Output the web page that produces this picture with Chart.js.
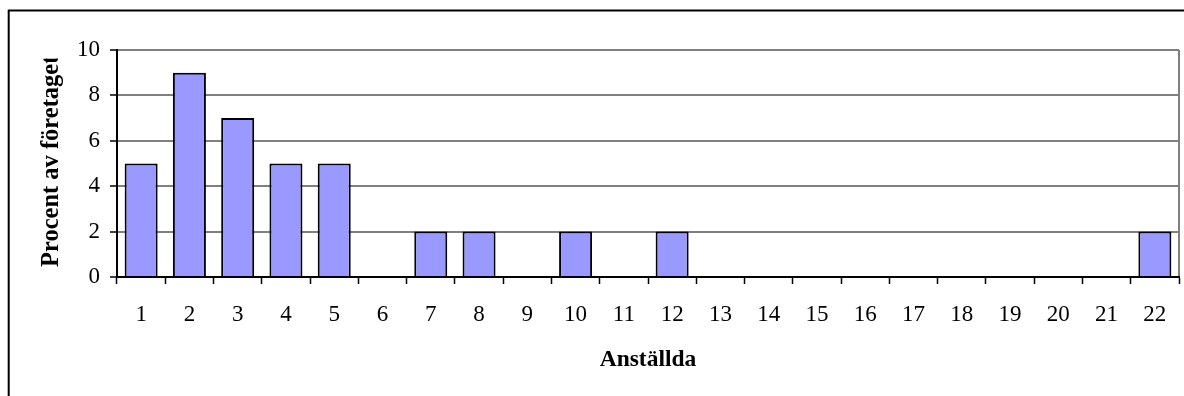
<!DOCTYPE html>
<html>
<head>
<meta charset="utf-8">
<script src="https://cdn.jsdelivr.net/npm/chart.js@4/dist/chart.umd.min.js"></script>
<style>
  html, body { margin: 0; padding: 0; background: #fff; }
  canvas { display: block; }
</style>
</head>
<body>
<canvas id="chart" width="1184" height="396"></canvas>
<script>
// Number of employees per company (category axis)
const categories = ['1','2','3','4','5','6','7','8','9','10','11','12','13','14','15','16','17','18','19','20','21','22'];
// Share of companies, in percent
const percent = [5, 9, 7, 5, 5, 0, 2, 2, 0, 2, 0, 2, 0, 0, 0, 0, 0, 0, 0, 0, 0, 2];
// Value axis range and step
const yMin = 0;
const yMax = 10;
const yStep = 2;

const xTitle = 'Anställda';
const yTitle = 'Procent av företaget';

const serif = 'Liberation Serif, Times New Roman, serif';

// Outer frame, plot-area right edge and the two axis titles
const decorations = {
  id: 'decorations',
  beforeDraw(chart) {
    const ctx = chart.ctx;
    ctx.save();
    ctx.fillStyle = '#fff';
    ctx.fillRect(0, 0, chart.width, chart.height);
    ctx.strokeStyle = '#000';
    ctx.lineWidth = 2;
    ctx.beginPath();
    ctx.moveTo(8.7, chart.height + 5);
    ctx.lineTo(8.7, 10.5);
    ctx.lineTo(chart.width + 5, 10.5);
    ctx.stroke();
    ctx.restore();
  },
  beforeDatasetsDraw(chart) {
    const ctx = chart.ctx;
    const a = chart.chartArea;
    ctx.save();
    ctx.strokeStyle = '#808080';
    ctx.lineWidth = 2;
    ctx.beginPath();
    ctx.moveTo(a.right, a.top);
    ctx.lineTo(a.right, a.bottom);
    ctx.stroke();
    ctx.restore();
  },
  afterDraw(chart) {
    const ctx = chart.ctx;
    const a = chart.chartArea;
    ctx.save();
    ctx.fillStyle = '#000';
    // horizontal axis title
    ctx.font = 'bold 23.5px ' + serif;
    ctx.textAlign = 'center';
    ctx.textBaseline = 'alphabetic';
    ctx.fillText(xTitle, (a.left + a.right) / 2, 366);
    // vertical axis title, cut off at the top edge of its box
    ctx.beginPath();
    ctx.rect(0, 58.5, a.left, chart.height);
    ctx.clip();
    ctx.translate(58, 267);
    ctx.rotate(-Math.PI / 2);
    ctx.font = 'bold 24.5px ' + serif;
    ctx.textAlign = 'left';
    ctx.fillText(yTitle, 0, 0);
    ctx.restore();
  }
};

new Chart(document.getElementById('chart'), {
  type: 'bar',
  data: {
    labels: categories,
    datasets: [{
      data: percent,
      backgroundColor: '#9999FF',
      borderColor: '#000',
      borderWidth: (c) => (c.raw === 0 ? 0 : 2),
      borderSkipped: 'start',
      categoryPercentage: 1,
      barPercentage: 0.684
    }]
  },
  options: {
    responsive: false,
    animation: false,
    devicePixelRatio: 1,
    layout: { padding: { left: 0, top: 50, right: 5, bottom: 0 } },
    plugins: {
      legend: { display: false },
      tooltip: { enabled: false }
    },
    scales: {
      x: {
        offset: true,
        grid: {
          offset: true,
          drawOnChartArea: false,
          drawTicks: true,
          tickLength: 7,
          tickColor: '#000',
          tickWidth: 1.5
        },
        border: { display: true, color: '#000', width: 2, z: 1 },
        ticks: {
          color: '#000',
          font: { family: serif, size: 23 },
          padding: 17,
          maxRotation: 0,
          autoSkip: false
        },
        afterFit(scale) { scale.height = 119; }
      },
      y: {
        min: yMin,
        max: yMax,
        grid: {
          color: '#808080',
          lineWidth: 2,
          drawTicks: true,
          tickLength: 7,
          tickColor: '#000',
          tickWidth: 1.5
        },
        border: { display: true, color: '#000', width: 2 },
        ticks: {
          stepSize: yStep,
          color: '#000',
          font: { family: serif, size: 23 },
          padding: 10
        },
        afterFit(scale) { scale.width = 117; }
      }
    }
  },
  plugins: [decorations]
});
</script>
</body>
</html>
